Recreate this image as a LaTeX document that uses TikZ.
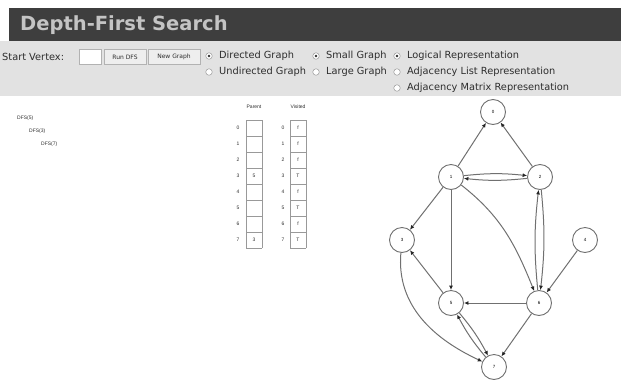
\documentclass[tikz,border=0pt]{standalone}
\usepackage{fontspec}
\setmainfont{DejaVu Sans}
\newfontfamily\tinyfont{Liberation Sans}
\usetikzlibrary{arrows.meta}
\definecolor{barcolor}{RGB}{62,62,62}
\definecolor{titlecolor}{RGB}{196,196,196}
\definecolor{panelcolor}{RGB}{226,226,226}
\definecolor{edgecolor}{RGB}{112,112,112}
\definecolor{buttoncolor}{RGB}{238,238,238}
\definecolor{textcolor}{RGB}{45,45,45}

\tikzset{
  vertex/.style={circle, draw=edgecolor, fill=white, line width=0.9pt, minimum size=25pt,
    inner sep=0pt, font=\tinyfont\fontsize{4.5}{5}\selectfont},
  arc/.style={draw=edgecolor, line width=1pt, -{Latex[length=4.5pt,width=4pt,color=black!85]}},
  radio/.style={circle, draw=gray!80, fill=white, line width=0.5pt, minimum size=6.5pt, inner sep=0pt},
  label/.style={anchor=west, inner sep=0pt, text=textcolor, font=\fontsize{9.8}{11}\selectfont},
  button/.style={draw=gray!60, fill=buttoncolor, line width=0.5pt, minimum height=15pt,
    inner sep=0pt, text=textcolor, font=\fontsize{6}{7}\selectfont},
  small/.style={inner sep=0pt, text=textcolor, font=\tinyfont\fontsize{5}{6}\selectfont}
}

\begin{document}
\begin{tikzpicture}[x=1pt, y=1pt]
			\useasboundingbox (0,0) rectangle (621,-381);
			% title bar and control panel
			\fill [color=barcolor] (9,-8) rectangle (621,-41);
			\fill [color=panelcolor] (0,-41) rectangle (621,-96);
			\node [anchor=west, inner sep=0pt, text=titlecolor, font=\fontsize{19.5}{22}\selectfont\bfseries] (title) at (20,-25) {Depth-First Search};
			\node [label] (startlbl) at (2,-57) {Start Vertex:};
			\node [draw=gray!60, fill=white, minimum width=22pt, minimum height=15pt, inner sep=0pt] (startbox) at (90,-57) {};
			\node [button, minimum width=42pt] (rundfs) at (125,-57) {Run DFS};
			\node [button, minimum width=52pt] (newgraph) at (174,-57) {New Graph};
			% radio buttons
			\node [radio] (rdir) at (209,-56) {};
			\node [radio] (rundir) at (209,-72) {};
			\node [radio] (rsmall) at (316,-56) {};
			\node [radio] (rlarge) at (316,-72) {};
			\node [radio] (rlog) at (397,-56) {};
			\node [radio] (rlist) at (397,-72) {};
			\node [radio] (rmat) at (397,-88) {};
			\fill [color=textcolor] (rdir) circle (1.3);
			\fill [color=textcolor] (rsmall) circle (1.3);
			\fill [color=textcolor] (rlog) circle (1.3);
			\node [label] (tdir) at (219,-56) {Directed Graph};
			\node [label] (tundir) at (219,-72) {Undirected Graph};
			\node [label] (tsmall) at (326,-56) {Small Graph};
			\node [label] (tlarge) at (326,-72) {Large Graph};
			\node [label] (tlog) at (407,-56) {Logical Representation};
			\node [label] (tlist) at (407,-72) {Adjacency List Representation};
			\node [label] (tmat) at (407,-88) {Adjacency Matrix Representation};
			% recursion trace
			\node [small, anchor=west] (call1) at (17,-118) {DFS(5)};
			\node [small, anchor=west] (call2) at (29,-131) {DFS(3)};
			\node [small, anchor=west] (call3) at (41,-144) {DFS(7)};
			% parent and visited arrays
			\node [small] (parentlbl) at (254,-107) {Parent};
			\node [small] (visitedlbl) at (298,-107) {Visited};
			\draw [gray!80, line width=0.6pt, xshift=246pt, yshift=-248pt] (0,0) grid[step=16pt] (16,128);
			\draw [gray!80, line width=0.6pt, xshift=290pt, yshift=-248pt] (0,0) grid[step=16pt] (16,128);
			\node [small] (pi0) at (238,-128) {0};
			\node [small] (pi1) at (238,-144) {1};
			\node [small] (pi2) at (238,-160) {2};
			\node [small] (pi3) at (238,-176) {3};
			\node [small] (pi4) at (238,-192) {4};
			\node [small] (pi5) at (238,-208) {5};
			\node [small] (pi6) at (238,-224) {6};
			\node [small] (pi7) at (238,-240) {7};
			\node [small] (pv3) at (254,-176) {5};
			\node [small] (pv7) at (254,-240) {3};
			\node [small] (vi0) at (283,-128) {0};
			\node [small] (vi1) at (283,-144) {1};
			\node [small] (vi2) at (283,-160) {2};
			\node [small] (vi3) at (283,-176) {3};
			\node [small] (vi4) at (283,-192) {4};
			\node [small] (vi5) at (283,-208) {5};
			\node [small] (vi6) at (283,-224) {6};
			\node [small] (vi7) at (283,-240) {7};
			\node [small] (vv0) at (298,-128) {f};
			\node [small] (vv1) at (298,-144) {f};
			\node [small] (vv2) at (298,-160) {f};
			\node [small] (vv3) at (298,-176) {T};
			\node [small] (vv4) at (298,-192) {f};
			\node [small] (vv5) at (298,-208) {T};
			\node [small] (vv6) at (298,-224) {f};
			\node [small] (vv7) at (298,-240) {T};
			% graph
			\node [vertex] (v0) at (493,-112) {0};
			\node [vertex] (v1) at (451,-177) {1};
			\node [vertex] (v2) at (540,-177) {2};
			\node [vertex] (v3) at (402,-240) {3};
			\node [vertex] (v4) at (585,-240) {4};
			\node [vertex] (v5) at (451,-303) {5};
			\node [vertex] (v6) at (539,-303) {6};
			\node [vertex] (v7) at (494,-367) {7};
			\draw [arc] (v1) -- (v0);
			\draw [arc] (v2) -- (v0);
			\draw [arc] (v1) to[bend left=6] (v2);
			\draw [arc] (v2) to[bend left=6] (v1);
			\draw [arc] (v1) -- (v3);
			\draw [arc] (v1) -- (v5);
			\draw [arc] (v1) to[out=-38, in=112] (v6);
			\draw [arc] (v2) to[bend left=6] (v6);
			\draw [arc] (v6) to[bend left=6] (v2);
			\draw [arc] (v4) -- (v6);
			\draw [arc] (v6) -- (v5);
			\draw [arc] (v5) -- (v3);
			\draw [arc] (v6) -- (v7);
			\draw [arc] (v5) to[bend left=6] (v7);
			\draw [arc] (v7) to[bend left=6] (v5);
			\draw [arc] (v3) to[out=-95, in=155] (v7);
		\end{tikzpicture}
\end{document}
